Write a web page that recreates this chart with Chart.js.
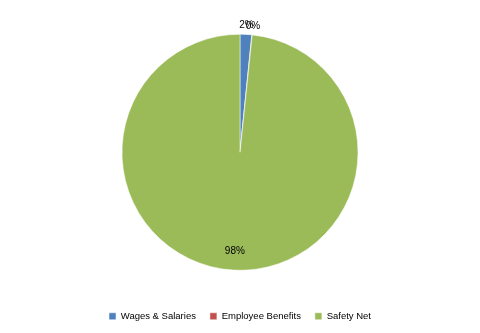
<!DOCTYPE html>
<html>
<head>
<meta charset="utf-8">
<script src="https://cdn.jsdelivr.net/npm/chart.js@4"></script>
<style>
  html, body { margin: 0; padding: 0; background: #fff; }
  #wrap { width: 480px; height: 333px; }
</style>
</head>
<body>
<div id="wrap"><canvas id="pie"></canvas></div>
<script>
// data
const categories = ["Wages & Salaries", "Employee Benefits", "Safety Net"];
const shares = [1.6, 0.05, 98.35];
const pctLabels = ["2%", "0%", "98%"];
const colors = ["#4F81BD", "#C0504D", "#9BBB59"];

// labels: small slices outside, big ones inside
const pctPlugin = {
    id: "pctLabels",
    afterDatasetsDraw(chart) {
        const ctx = chart.ctx;
        const meta = chart.getDatasetMeta(0);
        ctx.save();
        ctx.font = "10px 'Liberation Sans'";
        ctx.fillStyle = "#000";
        ctx.textAlign = "center";
        ctx.textBaseline = "middle";
        meta.data.forEach((arc, i) => {
            const mid = (arc.startAngle + arc.endAngle) / 2;
            const r = shares[i] < 10 ? arc.outerRadius + 9 : arc.outerRadius * 0.84;
            const x = arc.x + Math.cos(mid) * r;
            const y = arc.y + Math.sin(mid) * r;
            ctx.fillText(pctLabels[i], x, y);
        });
        ctx.restore();
    }
};

new Chart(document.getElementById("pie"), {
    type: "pie",
    data: {
        labels: categories,
        datasets: [{
            data: shares,
            backgroundColor: colors,
            borderColor: "#fff",
            borderWidth: 0.5,
            radius: 118
        }]
    },
    options: {
        responsive: true,
        maintainAspectRatio: false,
        animation: false,
        layout: { padding: { top: 7, bottom: 2 } },
        plugins: {
            legend: {
                position: "bottom",
                labels: {
                    boxWidth: 7,
                    boxHeight: 7,
                    padding: 14,
                    color: "#000",
                    font: { family: "'Liberation Sans'", size: 9.5 }
                }
            },
            tooltip: { enabled: false }
        }
    },
    plugins: [pctPlugin]
});
</script>
</body>
</html>
